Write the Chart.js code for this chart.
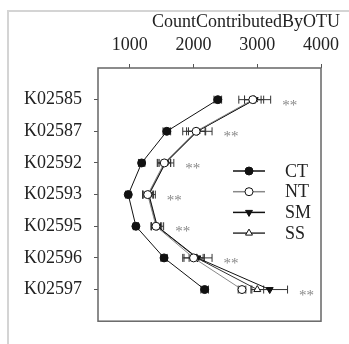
<!DOCTYPE html>
<html>
<head>
<meta charset="utf-8">
<script src="https://cdn.jsdelivr.net/npm/chart.js@4.4.1/dist/chart.umd.min.js"></script>
<style>
  html, body { margin: 0; padding: 0; background: #fff; }
  #wrap { width: 349px; height: 344px; }
</style>
</head>
<body>
<div id="wrap"><canvas id="otuChart" width="349" height="344"></canvas></div>
<script>
const categories = ['K02585', 'K02587', 'K02592', 'K02593', 'K02595', 'K02596', 'K02597'];
const xTicks = [1000, 2000, 3000, 4000];

// mean counts per treatment
const ctValues = [2380, 1580, 1185, 975, 1095, 1537, 2174];
const ntValues = [2930, 2040, 1540, 1280, 1410, 2000, 2760];
const smValues = [2960, 2060, 1560, 1300, 1430, 2060, 3195];
const ssValues = [2950, 2050, 1550, 1290, 1420, 2050, 3000];

// standard errors
const ctErr = [60, 60, 50, 40, 40, 50, 60];
const ntErr = [130, 150, 100, 80, 70, 150, 60];
const smErr = [250, 230, 130, 100, 100, 230, 280];
const ssErr = [150, 130, 90, 80, 80, 120, 100];

const sigMarks = ['**', '**', '**', '**', '**', '**', '**'];

const FONT = "'Liberation Serif', 'Times New Roman', serif";

const toPoints = vals => vals.map((v, i) => ({ x: v, y: i }));

const series = [
  { label: 'CT', values: ctValues, errors: ctErr, line: '#111', style: 'circle', fill: '#111', rot: 0 },
  { label: 'NT', values: ntValues, errors: ntErr, line: '#888', style: 'circle', fill: '#fff', rot: 0 },
  { label: 'SM', values: smValues, errors: smErr, line: '#111', style: 'triangle', fill: '#111', rot: 180 },
  { label: 'SS', values: ssValues, errors: ssErr, line: '#333', style: 'triangle', fill: '#fff', rot: 0 }
];

const datasets = series.map(s => ({
  label: s.label,
  data: toPoints(s.values),
  errors: s.errors,
  borderColor: s.line,
  borderWidth: 1,
  pointStyle: s.style,
  pointRotation: s.rot,
  pointRadius: 4,
  pointBackgroundColor: s.fill,
  pointBorderColor: '#111',
  pointBorderWidth: 1,
  showLine: true,
  tension: 0
}));

// light page frame plus the plot box
const frame = {
  id: 'frame',
  beforeDraw(chart) {
    const ctx = chart.ctx;
    ctx.save();
    ctx.strokeStyle = '#d4d4d4';
    ctx.lineWidth = 2;
    ctx.beginPath();
    ctx.moveTo(8, chart.height);
    ctx.lineTo(8, 11);
    ctx.lineTo(chart.width, 11);
    ctx.stroke();
    ctx.restore();
  },
  afterDraw(chart) {
    const { ctx, chartArea: a } = chart;
    ctx.save();
    ctx.strokeStyle = '#666';
    ctx.lineWidth = 1.5;
    ctx.strokeRect(a.left, a.top, a.right - a.left, a.bottom - a.top);

    // axis title, right aligned above the ticks
    ctx.fillStyle = '#222';
    ctx.font = '18px ' + FONT;
    ctx.textAlign = 'right';
    ctx.textBaseline = 'middle';
    ctx.fillText('CountContributedByOTU', 340, 22);
    ctx.restore();
  }
};

const errorBars = {
  id: 'errorBars',
  beforeDatasetsDraw(chart) {
    const { ctx, scales: { x, y } } = chart;
    ctx.save();
    ctx.lineWidth = 1;
    ctx.strokeStyle = '#333';
    chart.data.datasets.forEach(ds => {
      ds.data.forEach((pt, i) => {
        const e = ds.errors[i];
        const x0 = x.getPixelForValue(pt.x - e);
        const x1 = x.getPixelForValue(pt.x + e);
        const py = y.getPixelForValue(pt.y);
        ctx.beginPath();
        ctx.moveTo(x0, py); ctx.lineTo(x1, py);
        ctx.moveTo(x0, py - 4); ctx.lineTo(x0, py + 4);
        ctx.moveTo(x1, py - 4); ctx.lineTo(x1, py + 4);
        ctx.stroke();
      });
    });
    ctx.restore();
  },
  afterDatasetsDraw(chart) {
    // significance stars just right of the widest error bar
    const { ctx, scales: { x, y } } = chart;
    ctx.save();
    ctx.fillStyle = '#888';
    ctx.font = '15px ' + FONT;
    ctx.textAlign = 'center';
    ctx.textBaseline = 'alphabetic';
    categories.forEach((c, i) => {
      let right = -Infinity;
      chart.data.datasets.forEach(ds => {
        right = Math.max(right, ds.data[i].x + ds.errors[i]);
      });
      ctx.fillText(sigMarks[i], x.getPixelForValue(right) + 19, y.getPixelForValue(i) + 10);
    });
    ctx.restore();
  }
};

// legend drawn as line + marker + label inside the plot
const lineLegend = {
  id: 'lineLegend',
  afterDraw(chart) {
    const ctx = chart.ctx;
    const x0 = 233, x1 = 265, tx = 285, y0 = 171, dy = 20.7;
    ctx.save();
    series.forEach((s, i) => {
      const yy = y0 + i * dy;
      ctx.strokeStyle = s.line;
      ctx.lineWidth = 1.5;
      ctx.beginPath();
      ctx.moveTo(x0, yy);
      ctx.lineTo(x1, yy);
      ctx.stroke();
      ctx.fillStyle = s.fill;
      ctx.strokeStyle = '#111';
      ctx.lineWidth = 1;
      Chart.helpers.drawPoint(ctx, { pointStyle: s.style, rotation: s.rot, radius: 4, borderWidth: 1 }, (x0 + x1) / 2, yy);
      ctx.fillStyle = '#222';
      ctx.font = '18px ' + FONT;
      ctx.textAlign = 'left';
      ctx.textBaseline = 'middle';
      ctx.fillText(s.label, tx, yy + 1);
    });
    ctx.restore();
  }
};

new Chart(document.getElementById('otuChart'), {
  type: 'line',
  data: { datasets },
  plugins: [frame, errorBars, lineLegend],
  options: {
    responsive: false,
    animation: false,
    layout: { padding: { top: 0, left: 0, right: 28, bottom: 19 } },
    plugins: {
      legend: { display: false },
      tooltip: { enabled: false }
    },
    scales: {
      x: {
        type: 'linear',
        position: 'top',
        min: 500,
        max: 4000,
        afterBuildTicks: s => { s.ticks = xTicks.map(v => ({ value: v })); },
        afterFit: s => { s.height = 68; },
        border: { display: false },
        grid: { drawOnChartArea: false, tickLength: 4, tickColor: '#555' },
        ticks: {
          color: '#222',
          padding: 8,
          maxRotation: 0,
          autoSkip: false,
          font: { family: FONT, size: 18 },
          callback: v => String(v)
        }
      },
      y: {
        type: 'linear',
        reverse: true,
        min: -1,
        max: 7,
        afterBuildTicks: s => { s.ticks = categories.map((c, i) => ({ value: i })); },
        afterFit: s => { s.width = 98; },
        border: { display: false },
        grid: { drawOnChartArea: false, tickLength: 4, tickColor: '#555' },
        ticks: {
          color: '#222',
          padding: 12,
          autoSkip: false,
          font: { family: FONT, size: 18 },
          callback: v => categories[v]
        }
      }
    }
  }
});
</script>
</body>
</html>
